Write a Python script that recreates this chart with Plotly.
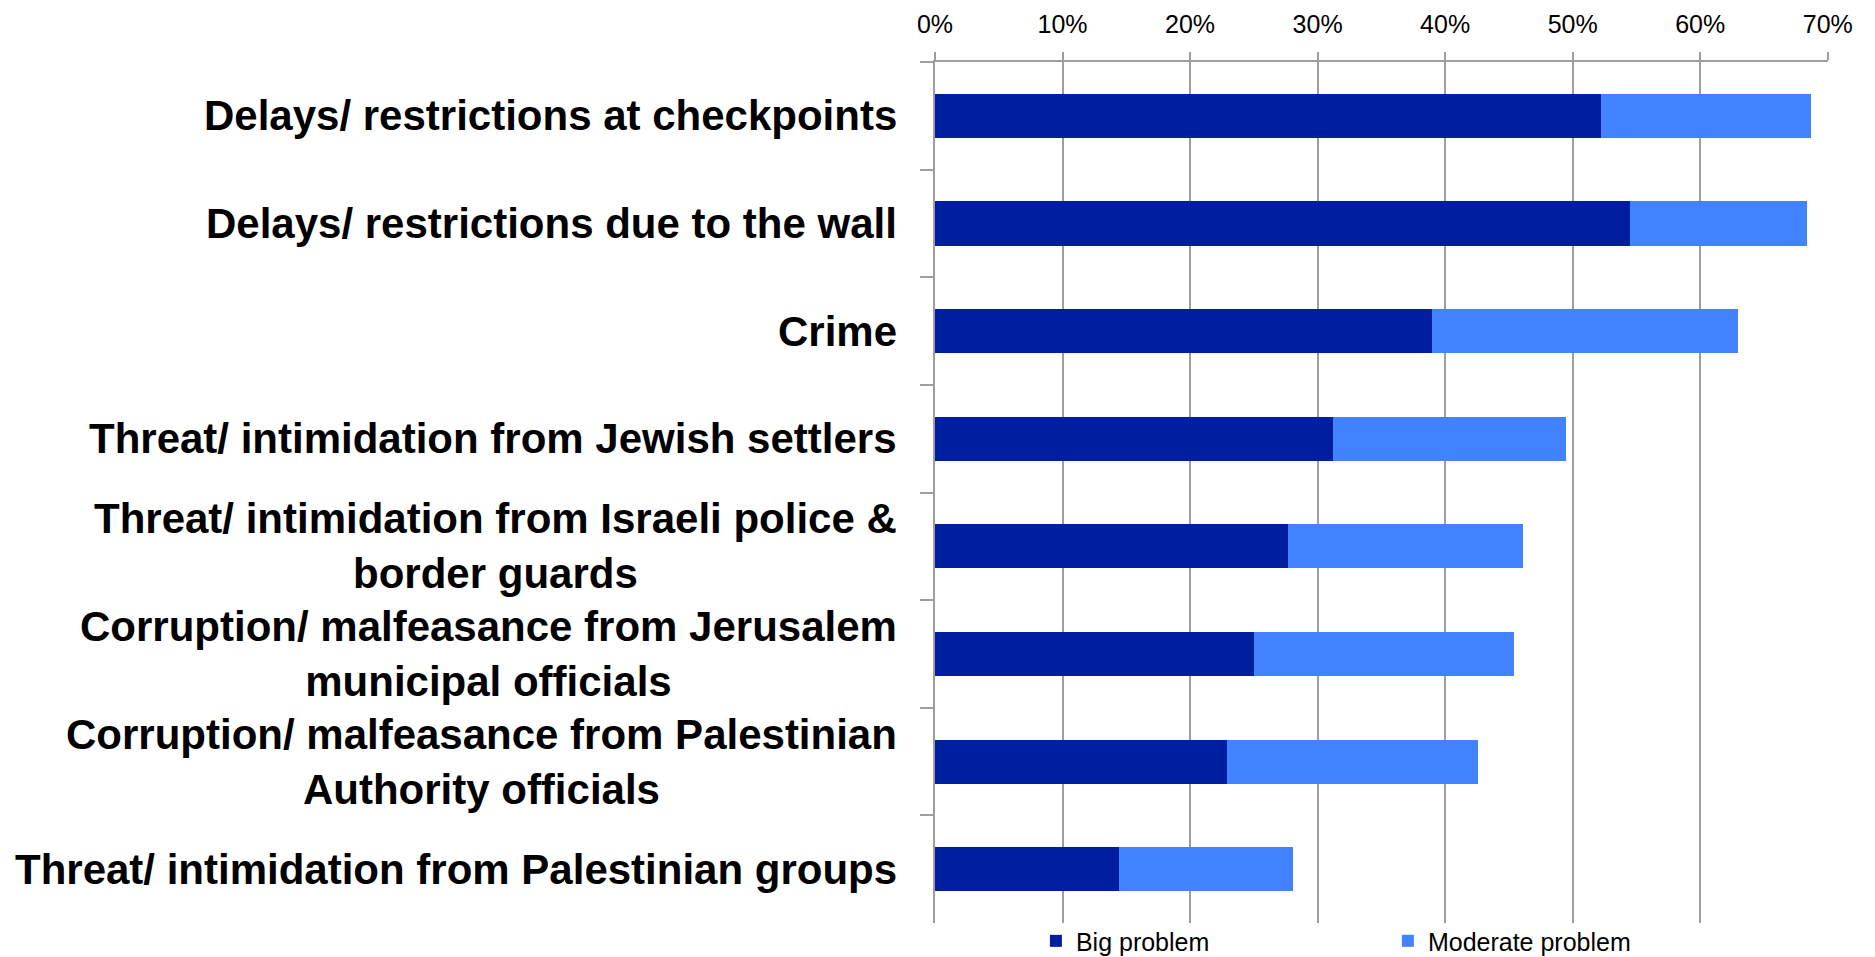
import plotly.graph_objects as go

categories = [
    "Delays/ restrictions at checkpoints",
    "Delays/ restrictions due to the wall",
    "Crime",
    "Threat/ intimidation from Jewish settlers",
    "Threat/ intimidation from Israeli police &<br>border guards",
    "Corruption/ malfeasance from Jerusalem<br>municipal officials",
    "Corruption/ malfeasance from Palestinian<br>Authority officials",
    "Threat/ intimidation from Palestinian groups",
]
big_problem = [52.2, 54.5, 39.0, 31.2, 27.7, 25.0, 22.9, 14.4]
moderate_problem = [16.5, 13.9, 24.0, 18.3, 18.4, 20.4, 19.7, 13.7]
x_ticks = [0, 10, 20, 30, 40, 50, 60, 70]
x_tick_labels = ["0%", "10%", "20%", "30%", "40%", "50%", "60%", "70%"]

FONT = "Liberation Sans, Arial, sans-serif"
GRID = "#9E9E9E"

fig = go.Figure()
fig.add_trace(go.Bar(
    y=categories, x=big_problem, orientation="h", name="Big problem",
    marker=dict(color="#001EA0", line=dict(width=0)),
))
fig.add_trace(go.Bar(
    y=categories, x=moderate_problem, orientation="h", name="Moderate problem",
    marker=dict(color="#4282FF", line=dict(width=0)),
))

for c in categories:
    fig.add_annotation(
        x=0, xref="paper", y=c, yref="y", text=c, showarrow=False,
        xanchor="right", yanchor="middle", align="center", xshift=-36,
        font=dict(family=FONT, size=42, color="black", weight="bold"),
    )

fig.update_layout(
    width=1867, height=949,
    margin=dict(l=927, r=47, t=53.5, b=34, autoexpand=False),
    paper_bgcolor="white", plot_bgcolor="white",
    barmode="stack", bargap=0.59,
    font=dict(family=FONT, size=25, color="black"),
    legend=dict(
        orientation="h", x=0.113, xanchor="left", y=-0.021, yanchor="middle",
        traceorder="normal",
        font=dict(family=FONT, size=25, color="black"),
        entrywidth=307, entrywidthmode="pixels",
        itemclick=False, bgcolor="rgba(0,0,0,0)",
    ),
    showlegend=True,
)
fig.update_xaxes(
    side="top", range=[0, 70.02], tickvals=x_ticks, ticktext=x_tick_labels,
    showgrid=True, gridcolor=GRID, gridwidth=1.5, zeroline=False,
    showline=True, linecolor=GRID, linewidth=1.5,
    ticks="outside", ticklen=8, tickcolor=GRID, tickwidth=1.5,
    ticklabelstandoff=9,
    tickfont=dict(family=FONT, size=25, color="black"),
)
fig.update_yaxes(
    autorange="reversed", showticklabels=False, showgrid=False, zeroline=False,
    showline=True, linecolor=GRID, linewidth=1.5,
    ticks="outside", tickson="boundaries", ticklen=13, tickcolor=GRID, tickwidth=1.5,
)

fig.write_html("out.html")
